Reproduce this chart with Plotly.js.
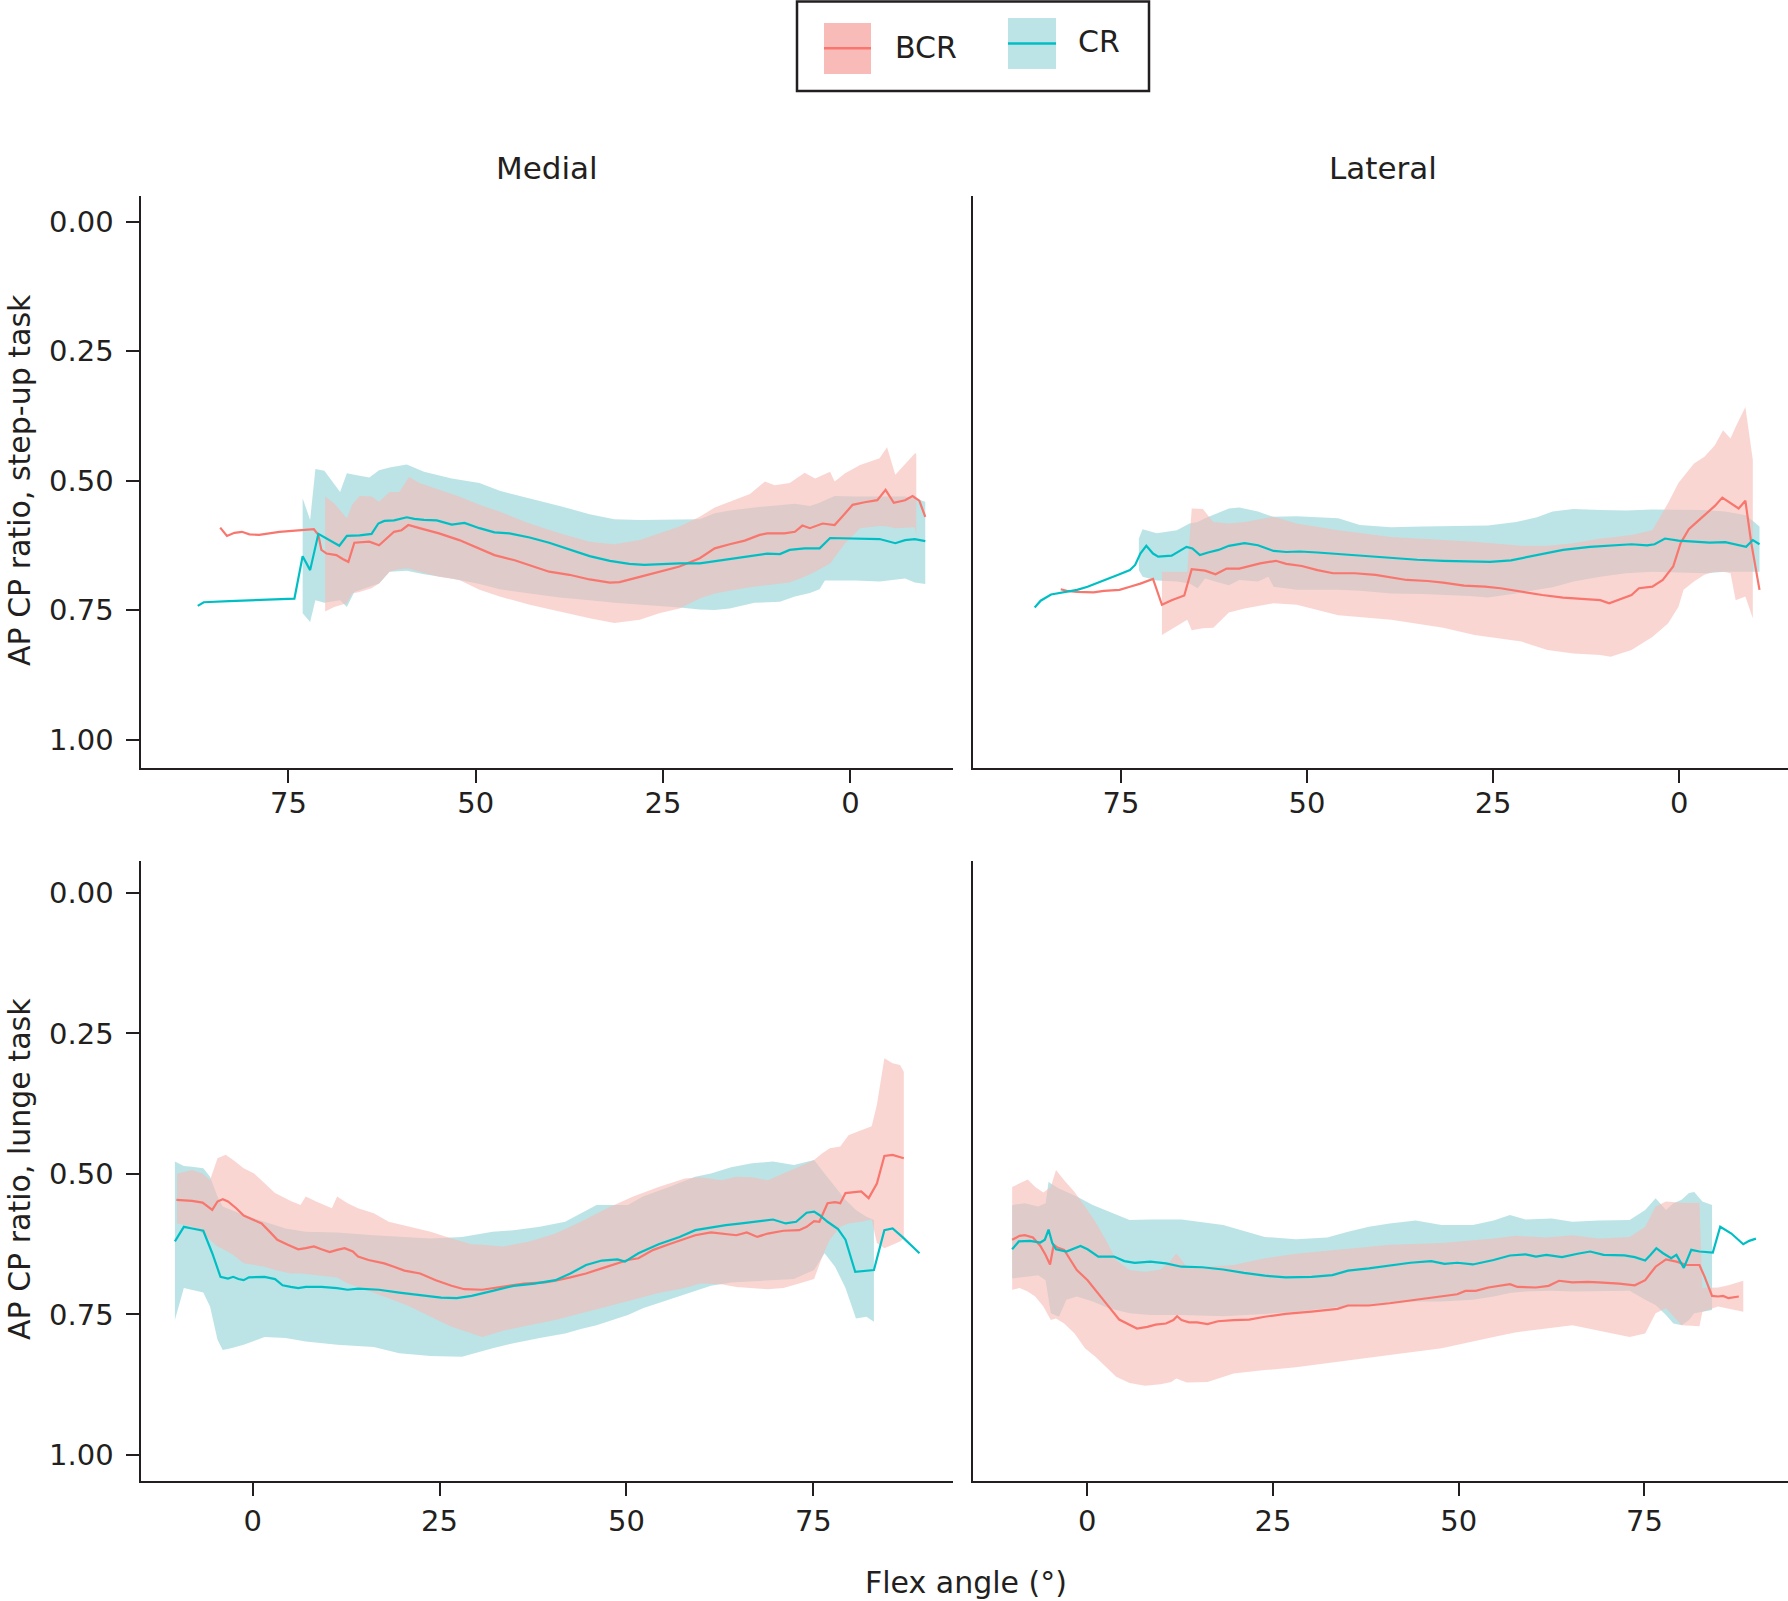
<!DOCTYPE html>
<html>
<head>
<meta charset="utf-8">
<script src="https://cdn.plot.ly/plotly-3.0.1.min.js"></script>
<style>html,body{margin:0;padding:0;background:#fff;}#chart{width:1788px;height:1601px;}</style>
</head>
<body>
<div id="chart"></div>
<script>
// ---------- Labels ----------
const groupNames = ["BCR", "CR"];
const columnTitles = ["Medial", "Lateral"];
const rowTitles = ["AP CP ratio, step-up task", "AP CP ratio, lunge task"];
const xTitle = "Flex angle (°)";
const xTickValues = [0, 25, 50, 75];
const yTickValues = [0, 0.25, 0.5, 0.75, 1];

// ---------- Step-up task, Medial ----------
const stepMedialCrLineX = [87.1,86.3,82.9,74.2,73.1,72.1,71.0,69.6,68.2,67.2,65.5,63.9,63.0,62.2,60.9,59.2,58.2,56.9,55.2,53.2,51.5,49.5,47.5,45.5,42.8,40.2,37.5,34.8,32.1,29.5,27.5,24.8,22.8,20.1,17.4,14.8,12.8,11.1,9.4,8.1,6.1,4.1,2.7,0.7,-1.3,-3.9,-6.0,-7.3,-8.6,-10.0];
const stepMedialCrLineY = [0.742,0.735,0.733,0.728,0.646,0.673,0.603,0.615,0.626,0.607,0.606,0.603,0.583,0.578,0.577,0.571,0.574,0.576,0.577,0.585,0.582,0.592,0.600,0.602,0.610,0.620,0.633,0.646,0.655,0.661,0.663,0.661,0.660,0.660,0.654,0.648,0.645,0.641,0.642,0.634,0.631,0.631,0.611,0.612,0.613,0.613,0.621,0.615,0.613,0.617];
const stepMedialCrBandX = [73.1,72.1,71.4,70.2,68.1,67.2,66.2,64.2,62.9,61.5,59.2,56.9,53.2,49.5,46.8,42.8,38.8,34.8,31.5,28.1,22.8,20.1,18.1,16.1,12.8,9.4,7.4,5.4,4.1,3.4,2.1,-0.6,-3.9,-7.3,-8.6,-10.0];
const stepMedialCrBandMin = [0.534,0.576,0.478,0.481,0.522,0.486,0.489,0.494,0.480,0.475,0.469,0.483,0.496,0.505,0.520,0.534,0.549,0.565,0.575,0.576,0.576,0.575,0.563,0.558,0.552,0.547,0.545,0.549,0.543,0.538,0.530,0.531,0.531,0.531,0.534,0.541];
const stepMedialCrBandMax = [0.756,0.773,0.731,0.736,0.731,0.744,0.715,0.705,0.699,0.676,0.674,0.681,0.689,0.700,0.710,0.718,0.726,0.731,0.736,0.740,0.745,0.749,0.750,0.747,0.736,0.734,0.724,0.717,0.710,0.693,0.693,0.693,0.695,0.689,0.697,0.700];
const stepMedialBcrLineX = [84.1,83.2,82.2,81.2,80.2,78.9,76.2,73.6,71.6,71.0,70.6,69.9,68.6,67.7,67.0,66.2,64.2,62.9,61.9,60.9,59.9,59.0,57.5,54.9,52.2,49.5,47.5,44.8,42.8,40.2,37.5,34.8,32.1,30.8,28.1,25.5,22.8,20.1,18.1,16.1,14.1,12.1,11.1,8.8,7.4,6.4,5.4,3.7,2.1,1.1,-0.3,-1.9,-3.6,-4.7,-5.8,-7.3,-8.3,-9.2,-10.0];
const stepMedialBcrLineY = [0.591,0.607,0.601,0.599,0.604,0.605,0.599,0.596,0.594,0.605,0.634,0.641,0.644,0.652,0.657,0.620,0.618,0.625,0.612,0.599,0.596,0.586,0.592,0.602,0.615,0.631,0.644,0.654,0.663,0.676,0.682,0.691,0.697,0.696,0.686,0.676,0.666,0.650,0.631,0.623,0.616,0.605,0.602,0.602,0.599,0.587,0.592,0.583,0.586,0.570,0.547,0.542,0.538,0.518,0.543,0.538,0.530,0.539,0.570];
const stepMedialBcrBandX = [70.1,68.9,67.2,66.5,65.5,63.9,62.9,61.5,60.2,58.9,57.5,54.9,52.2,49.5,46.8,42.8,38.8,34.8,31.5,28.1,25.5,22.8,20.1,18.1,16.1,13.4,11.4,10.1,8.1,6.1,4.7,2.7,2.1,0.7,-1.3,-3.9,-4.9,-6.0,-8.6,-8.8];
const stepMedialBcrBandMin = [0.531,0.544,0.573,0.547,0.530,0.531,0.541,0.522,0.522,0.493,0.505,0.518,0.531,0.547,0.560,0.583,0.602,0.618,0.623,0.615,0.602,0.589,0.570,0.552,0.541,0.526,0.502,0.509,0.505,0.485,0.496,0.483,0.502,0.486,0.470,0.457,0.436,0.489,0.448,0.448];
const stepMedialBcrBandMax = [0.753,0.744,0.737,0.718,0.715,0.708,0.699,0.676,0.671,0.670,0.676,0.686,0.692,0.711,0.724,0.740,0.753,0.766,0.775,0.769,0.756,0.747,0.728,0.718,0.713,0.706,0.702,0.700,0.697,0.686,0.676,0.660,0.647,0.621,0.592,0.588,0.589,0.592,0.590,0.605];

// ---------- Step-up task, Lateral ----------
const stepLateralCrLineX = [86.6,85.8,84.4,82.3,80.9,79.5,77.3,75.2,73.8,73.1,72.4,71.6,70.7,70.0,68.2,67.2,66.2,65.4,64.4,63.3,61.9,60.5,58.4,56.6,54.5,52.8,51.0,48.6,45.8,42.2,38.7,35.2,31.7,28.2,25.4,22.6,19.1,15.6,12.0,8.5,6.4,4.3,3.3,1.9,0.1,-2.0,-4.1,-6.2,-7.6,-9.0,-9.9,-10.8];
const stepLateralCrLineY = [0.745,0.732,0.720,0.714,0.711,0.705,0.692,0.681,0.673,0.663,0.641,0.626,0.641,0.647,0.645,0.637,0.628,0.631,0.644,0.639,0.634,0.626,0.621,0.625,0.636,0.638,0.637,0.639,0.642,0.646,0.650,0.653,0.655,0.656,0.657,0.654,0.644,0.634,0.628,0.624,0.623,0.625,0.623,0.612,0.616,0.618,0.620,0.619,0.623,0.628,0.615,0.623];
const stepLateralCrBandX = [72.6,72.1,70.2,67.5,65.8,64.7,63.7,61.9,60.5,59.1,56.6,55.2,54.5,51.4,45.8,42.9,38.7,34.5,28.2,25.7,21.9,19.1,17.0,14.2,10.6,7.1,3.6,0.1,-3.4,-6.2,-9.0,-10.8];
const stepLateralCrBandMin = [0.612,0.594,0.602,0.596,0.583,0.580,0.573,0.563,0.554,0.552,0.560,0.567,0.570,0.569,0.573,0.586,0.590,0.589,0.588,0.587,0.580,0.571,0.560,0.555,0.557,0.558,0.556,0.556,0.557,0.560,0.567,0.589];
const stepLateralCrBandMax = [0.673,0.686,0.693,0.695,0.699,0.708,0.689,0.697,0.702,0.692,0.695,0.686,0.705,0.711,0.711,0.713,0.718,0.719,0.723,0.726,0.718,0.711,0.706,0.695,0.686,0.679,0.676,0.678,0.679,0.676,0.676,0.676];
const stepLateralBcrLineX = [83.1,82.3,80.9,78.7,77.3,75.2,73.8,72.4,70.7,69.5,68.2,66.8,66.5,65.5,63.7,62.3,60.8,59.1,57.7,56.3,54.2,52.8,50.7,48.6,46.5,43.6,40.8,38.7,36.6,33.8,31.7,28.9,26.1,24.0,21.2,18.4,15.6,12.7,10.6,9.4,7.8,6.4,5.4,3.6,2.2,0.8,-0.2,-1.3,-2.7,-4.1,-4.8,-5.8,-6.9,-8.0,-8.9,-9.7,-10.8];
const stepLateralBcrLineY = [0.710,0.713,0.715,0.716,0.713,0.711,0.705,0.699,0.690,0.740,0.731,0.724,0.722,0.671,0.674,0.681,0.670,0.670,0.665,0.660,0.655,0.661,0.665,0.673,0.679,0.679,0.682,0.687,0.692,0.694,0.697,0.703,0.705,0.708,0.715,0.721,0.726,0.729,0.731,0.737,0.728,0.721,0.708,0.705,0.692,0.666,0.621,0.594,0.576,0.557,0.549,0.533,0.544,0.554,0.539,0.621,0.711];
const stepLateralBcrBandX = [69.5,66.1,65.5,64.0,62.6,60.5,58.4,54.5,51.4,45.8,38.7,31.7,27.5,21.2,17.7,14.2,10.6,9.2,6.4,3.6,1.5,0.1,-0.6,-2.0,-3.4,-4.8,-5.9,-6.9,-7.6,-8.9,-9.9];
const stepLateralBcrBandMin = [0.676,0.676,0.554,0.555,0.580,0.583,0.580,0.570,0.583,0.596,0.609,0.615,0.618,0.626,0.626,0.621,0.612,0.610,0.605,0.596,0.544,0.505,0.493,0.467,0.454,0.432,0.403,0.419,0.396,0.358,0.460];
const stepLateralBcrBandMax = [0.798,0.769,0.789,0.785,0.784,0.755,0.747,0.737,0.740,0.760,0.769,0.784,0.798,0.811,0.827,0.834,0.837,0.840,0.827,0.802,0.776,0.744,0.711,0.695,0.682,0.676,0.676,0.679,0.731,0.724,0.766];

// ---------- Lunge task, Medial ----------
const lungeMedialCrLineX = [-10.4,-9.2,-8.1,-6.6,-5.4,-4.3,-3.3,-2.6,-1.9,-1.2,-0.5,1.6,3.0,4.0,5.1,6.1,7.1,9.2,11.3,12.7,14.1,16.9,19.6,22.4,25.2,27.3,29.3,32.1,34.9,37.7,40.5,42.5,44.6,46.7,48.8,49.8,51.6,54.3,57.1,59.2,61.3,63.3,65.4,67.5,69.6,71.3,72.7,74.1,75.1,75.8,76.9,78.3,79.3,80.6,83.1,84.5,85.6,86.9,89.2];
const lungeMedialCrLineY = [0.620,0.594,0.597,0.601,0.641,0.683,0.686,0.683,0.687,0.689,0.684,0.683,0.687,0.698,0.701,0.703,0.701,0.701,0.703,0.706,0.704,0.706,0.711,0.715,0.720,0.721,0.717,0.708,0.699,0.695,0.689,0.677,0.662,0.654,0.652,0.656,0.641,0.625,0.612,0.600,0.595,0.591,0.588,0.584,0.581,0.588,0.585,0.569,0.567,0.573,0.585,0.598,0.617,0.674,0.671,0.600,0.597,0.612,0.641];
const lungeMedialCrBandX = [-10.4,-9.2,-8.1,-6.6,-5.7,-4.7,-4.0,-2.9,-1.2,1.6,4.4,7.1,11.3,16.2,19.6,23.8,28.0,32.1,34.9,38.4,41.8,43.9,46.0,50.2,52.2,55.7,59.2,61.3,64.0,66.8,69.6,72.4,75.1,76.5,77.9,79.3,80.7,82.1,83.1];
const lungeMedialCrBandMin = [0.478,0.486,0.487,0.490,0.505,0.540,0.558,0.564,0.573,0.585,0.597,0.603,0.604,0.609,0.612,0.615,0.612,0.603,0.600,0.594,0.585,0.570,0.555,0.555,0.540,0.523,0.505,0.499,0.488,0.481,0.478,0.484,0.475,0.499,0.523,0.546,0.564,0.576,0.582];
const lungeMedialCrBandMax = [0.760,0.703,0.706,0.711,0.736,0.795,0.813,0.810,0.804,0.790,0.792,0.798,0.804,0.808,0.819,0.824,0.825,0.810,0.801,0.792,0.784,0.776,0.769,0.751,0.739,0.724,0.708,0.699,0.693,0.690,0.689,0.687,0.671,0.641,0.665,0.703,0.757,0.754,0.763];
const lungeMedialBcrLineX = [-10.2,-8.1,-6.7,-6.1,-5.4,-4.7,-4.0,-3.3,-2.2,-1.2,-0.2,1.2,2.3,3.3,4.7,6.1,7.1,8.2,9.2,10.3,11.3,12.3,13.4,14.1,15.5,17.6,18.9,20.3,22.4,24.5,26.6,28.3,30.7,33.5,36.3,39.1,40.5,42.5,44.6,46.7,48.8,50.2,51.6,53.6,55.7,57.8,59.2,61.3,63.3,64.7,66.1,67.5,68.9,71.0,73.1,74.1,75.1,75.8,76.9,77.9,78.6,79.3,81.4,82.4,83.5,84.5,85.6,87.1];
const lungeMedialBcrLineY = [0.546,0.548,0.551,0.557,0.564,0.549,0.545,0.549,0.561,0.574,0.580,0.588,0.603,0.617,0.626,0.634,0.632,0.629,0.634,0.639,0.635,0.632,0.638,0.647,0.653,0.659,0.665,0.672,0.677,0.689,0.699,0.705,0.706,0.701,0.695,0.693,0.690,0.684,0.677,0.668,0.659,0.653,0.650,0.635,0.625,0.616,0.609,0.604,0.607,0.609,0.604,0.612,0.606,0.601,0.600,0.594,0.584,0.585,0.552,0.550,0.552,0.534,0.531,0.543,0.517,0.468,0.466,0.472];
const lungeMedialBcrBandX = [-10.1,-8.1,-6.7,-5.7,-4.7,-3.6,-2.6,-1.2,0.2,1.6,3.0,5.1,6.4,7.1,8.5,10.6,11.3,12.7,14.1,16.2,18.2,21.0,23.8,26.6,29.3,30.7,33.5,37.0,40.5,43.9,47.4,50.9,54.3,57.8,59.9,62.7,64.7,66.8,68.9,71.0,73.1,75.1,76.2,77.2,78.6,79.7,81.4,82.8,83.5,84.5,85.6,86.6,87.1];
const lungeMedialBcrBandMin = [0.499,0.493,0.499,0.511,0.472,0.466,0.475,0.490,0.499,0.517,0.534,0.548,0.555,0.540,0.549,0.561,0.540,0.552,0.561,0.570,0.585,0.594,0.603,0.615,0.625,0.626,0.629,0.620,0.606,0.585,0.561,0.540,0.523,0.508,0.506,0.511,0.505,0.506,0.511,0.499,0.487,0.475,0.463,0.454,0.451,0.431,0.422,0.415,0.377,0.294,0.303,0.306,0.318];
const lungeMedialBcrBandMax = [0.588,0.594,0.606,0.617,0.629,0.636,0.644,0.659,0.662,0.665,0.671,0.677,0.677,0.677,0.680,0.683,0.684,0.695,0.701,0.712,0.721,0.736,0.754,0.772,0.784,0.790,0.779,0.769,0.760,0.748,0.736,0.724,0.712,0.703,0.695,0.696,0.701,0.703,0.705,0.703,0.695,0.687,0.647,0.617,0.594,0.588,0.585,0.581,0.623,0.632,0.626,0.620,0.615];

// ---------- Lunge task, Lateral ----------
const lungeLateralCrLineX = [-10.1,-9.2,-7.7,-6.3,-5.7,-5.2,-4.7,-4.2,-2.8,-1.7,-0.9,0.05,1.5,3.6,5.0,6.4,8.5,10.6,12.7,15.5,18.3,21.1,23.9,26.7,30.2,33.0,35.1,37.9,40.7,43.5,46.3,48.1,49.8,51.9,54.7,56.9,59.0,60.4,61.8,63.9,66.0,67.7,69.5,72.3,73.7,75.1,75.8,76.6,77.5,78.6,79.3,80.3,81.3,82.4,84.2,85.2,86.7,88.3,89.1,90.0];
const lungeLateralCrLineY = [0.634,0.620,0.619,0.622,0.617,0.599,0.623,0.634,0.638,0.632,0.628,0.634,0.647,0.647,0.655,0.658,0.656,0.659,0.665,0.666,0.670,0.676,0.681,0.684,0.683,0.680,0.672,0.668,0.663,0.658,0.655,0.660,0.658,0.661,0.653,0.645,0.643,0.647,0.644,0.648,0.642,0.638,0.644,0.645,0.648,0.654,0.644,0.632,0.641,0.650,0.644,0.667,0.635,0.638,0.640,0.594,0.606,0.625,0.619,0.615];
const lungeLateralCrBandX = [-10.1,-8.4,-6.6,-5.6,-5.2,-4.9,-3.8,-2.8,-1.4,0.75,2.9,5.7,8.5,12.7,18.3,23.9,28.1,32.3,35.1,37.9,40.7,44.2,47.7,51.9,54.7,56.9,59.0,62.5,65.3,68.8,73.0,75.1,76.5,77.9,78.9,80.0,81.0,81.7,82.8,84.1];
const lungeLateralCrBandMin = [0.555,0.552,0.558,0.552,0.514,0.517,0.526,0.532,0.540,0.555,0.567,0.582,0.581,0.581,0.591,0.612,0.616,0.613,0.603,0.594,0.588,0.583,0.591,0.591,0.583,0.573,0.581,0.579,0.585,0.583,0.582,0.564,0.543,0.564,0.552,0.546,0.534,0.532,0.549,0.555];
const lungeLateralCrBandMax = [0.686,0.683,0.680,0.689,0.724,0.748,0.754,0.724,0.718,0.727,0.739,0.748,0.751,0.751,0.753,0.749,0.745,0.739,0.736,0.733,0.730,0.727,0.727,0.724,0.718,0.712,0.709,0.708,0.709,0.709,0.708,0.724,0.733,0.751,0.766,0.769,0.760,0.748,0.745,0.742];
const lungeLateralBcrLineX = [-10.1,-9.1,-8.4,-7.3,-6.3,-5.6,-5.0,-4.5,-4.0,-3.1,-2.4,-1.4,0.05,1.5,2.9,4.3,5.7,6.7,8.1,9.2,10.6,11.6,12.1,12.7,13.7,14.8,16.2,17.6,19.7,21.8,23.9,26.7,30.2,33.7,35.1,37.9,40.7,44.2,47.7,49.8,50.9,52.3,54.0,56.9,57.9,60.4,62.1,63.5,65.3,67.4,68.8,71.6,73.7,75.1,76.5,77.9,79.3,80.7,82.4,83.1,84.1,84.9,85.6,86.3,87.7];
const lungeLateralBcrLineY = [0.617,0.610,0.609,0.613,0.628,0.644,0.661,0.626,0.631,0.635,0.650,0.671,0.689,0.712,0.736,0.759,0.769,0.775,0.772,0.768,0.766,0.760,0.753,0.760,0.764,0.764,0.767,0.762,0.760,0.759,0.754,0.749,0.745,0.740,0.734,0.734,0.730,0.724,0.717,0.714,0.708,0.708,0.702,0.696,0.701,0.702,0.699,0.690,0.693,0.692,0.693,0.695,0.698,0.689,0.665,0.652,0.656,0.662,0.662,0.683,0.717,0.718,0.717,0.721,0.718];
const lungeLateralBcrBandX = [-10.1,-9.1,-8.0,-7.0,-5.9,-4.9,-4.2,-3.1,-1.7,-0.3,1.1,2.5,3.9,5.7,7.8,9.9,11.3,12.0,13.4,16.2,19.7,23.9,28.1,33.7,40.7,47.7,54.7,57.6,61.8,65.3,68.8,73.0,75.1,76.5,77.9,80.0,82.4,82.8,84.9,86.3,88.3];
const lungeLateralBcrBandMin = [0.523,0.517,0.510,0.523,0.533,0.523,0.493,0.511,0.532,0.558,0.585,0.617,0.653,0.671,0.674,0.670,0.653,0.641,0.665,0.665,0.662,0.650,0.642,0.635,0.626,0.623,0.615,0.610,0.613,0.609,0.615,0.612,0.594,0.558,0.549,0.551,0.551,0.703,0.702,0.698,0.690];
const lungeLateralBcrBandMax = [0.706,0.703,0.709,0.718,0.736,0.760,0.757,0.766,0.784,0.810,0.825,0.843,0.861,0.872,0.877,0.874,0.870,0.864,0.871,0.870,0.855,0.849,0.844,0.834,0.822,0.810,0.790,0.782,0.775,0.769,0.779,0.790,0.784,0.748,0.739,0.769,0.771,0.745,0.736,0.739,0.745];

// ---------- Styling ----------
const lineColors = {BCR: "#F8766D", CR: "#00BFC4"};
const bandColors = {BCR: "rgba(247,187,182,0.6)", CR: "rgba(143,210,213,0.6)"};
const swatchColors = {BCR: "#F8BBB7", CR: "#BCE4E6"};
const FONT = "'DejaVu Sans', 'Liberation Sans', Arial, sans-serif";
const TEXT = "#231f20";
const W = 1788, H = 1601;

const panels = [
  {xa: "x",  ya: "y",  CR: [stepMedialCrLineX, stepMedialCrLineY, stepMedialCrBandX, stepMedialCrBandMin, stepMedialCrBandMax],
                       BCR: [stepMedialBcrLineX, stepMedialBcrLineY, stepMedialBcrBandX, stepMedialBcrBandMin, stepMedialBcrBandMax]},
  {xa: "x2", ya: "y2", CR: [stepLateralCrLineX, stepLateralCrLineY, stepLateralCrBandX, stepLateralCrBandMin, stepLateralCrBandMax],
                       BCR: [stepLateralBcrLineX, stepLateralBcrLineY, stepLateralBcrBandX, stepLateralBcrBandMin, stepLateralBcrBandMax]},
  {xa: "x3", ya: "y3", CR: [lungeMedialCrLineX, lungeMedialCrLineY, lungeMedialCrBandX, lungeMedialCrBandMin, lungeMedialCrBandMax],
                       BCR: [lungeMedialBcrLineX, lungeMedialBcrLineY, lungeMedialBcrBandX, lungeMedialBcrBandMin, lungeMedialBcrBandMax]},
  {xa: "x4", ya: "y4", CR: [lungeLateralCrLineX, lungeLateralCrLineY, lungeLateralCrBandX, lungeLateralCrBandMin, lungeLateralCrBandMax],
                       BCR: [lungeLateralBcrLineX, lungeLateralBcrLineY, lungeLateralBcrBandX, lungeLateralBcrBandMin, lungeLateralBcrBandMax]}
];

const traces = [];
panels.forEach(p => {
  ["CR", "BCR"].forEach(g => {
    const [lx, ly, bx, bmin, bmax] = p[g];
    traces.push({
      type: "scatter", mode: "lines", xaxis: p.xa, yaxis: p.ya,
      x: bx.concat(bx.slice().reverse()),
      y: bmin.concat(bmax.slice().reverse()),
      fill: "toself", fillcolor: bandColors[g],
      line: {width: 0, color: "rgba(0,0,0,0)"}, hoverinfo: "skip", showlegend: false, name: g
    });
  });
  ["BCR", "CR"].forEach(g => {
    const [lx, ly] = p[g];
    traces.push({
      type: "scatter", mode: "lines", xaxis: p.xa, yaxis: p.ya,
      x: lx, y: ly, line: {color: lineColors[g], width: 2.2},
      showlegend: false, name: g
    });
  });
});

// pixel helpers for paper coordinates
const px = v => v / W;
const py = v => 1 - v / H;

const axisCommon = {
  showgrid: false, zeroline: false, showline: true, linecolor: TEXT, linewidth: 2,
  ticks: "outside", ticklen: 13, tickwidth: 2, tickcolor: TEXT,
  tickfont: {family: FONT, size: 29, color: TEXT}
};
const leftDom = [px(140.5), px(953)];
const rightDom = [px(973), px(1788)];
const topDom = [py(767.5), py(195.6)];
const botDom = [py(1481), py(861)];

const xaxisBase = Object.assign({}, axisCommon, {tickvals: xTickValues, ticktext: xTickValues.map(String)});
const xaxisTop = Object.assign({}, xaxisBase, {ticklabelstandoff: -4});
const yaxisBase = Object.assign({}, axisCommon, {tickvals: yTickValues, tickformat: ".2f", ticklabelstandoff: 6, ticklen: 13});
const yaxisNoTicks = Object.assign({}, axisCommon, {ticks: "", showticklabels: false});

const titleFont = {family: FONT, size: 30, color: TEXT};

const layout = {
  width: W, height: H,
  margin: {l: 0, r: 0, t: 0, b: 0},
  paper_bgcolor: "#ffffff", plot_bgcolor: "#ffffff",
  showlegend: false,
  font: {family: FONT, color: TEXT},
  xaxis:  Object.assign({}, xaxisTop,  {domain: leftDom,  anchor: "y",  range: [94.74, -13.7]}),
  yaxis:  Object.assign({}, yaxisBase, {domain: topDom,   anchor: "x",  range: [1.054, -0.05]}),
  xaxis2: Object.assign({}, xaxisTop,  {domain: rightDom, anchor: "y2", range: [94.89, -14.63]}),
  yaxis2: Object.assign({}, yaxisNoTicks, {domain: topDom, anchor: "x2", range: [1.054, -0.05]}),
  xaxis3: Object.assign({}, xaxisBase, {domain: leftDom,  anchor: "y3", range: [-15.0, 93.68]}),
  yaxis3: Object.assign({}, yaxisBase, {domain: botDom,   anchor: "x3", range: [1.0463, -0.0569]}),
  xaxis4: Object.assign({}, xaxisBase, {domain: rightDom, anchor: "y4", range: [-15.37, 94.32]}),
  yaxis4: Object.assign({}, yaxisNoTicks, {domain: botDom, anchor: "x4", range: [1.0463, -0.0569]}),
  annotations: [
    {text: columnTitles[0], xref: "paper", yref: "paper", x: px(547.25), y: py(167.6), xanchor: "center", yanchor: "middle", showarrow: false, font: {family: FONT, size: 31, color: TEXT}},
    {text: columnTitles[1], xref: "paper", yref: "paper", x: px(1383), y: py(167.6), xanchor: "center", yanchor: "middle", showarrow: false, font: {family: FONT, size: 31, color: TEXT}},
    {text: rowTitles[0], xref: "paper", yref: "paper", x: px(19), y: py(480), xanchor: "center", yanchor: "middle", textangle: -90, showarrow: false, font: titleFont},
    {text: rowTitles[1], xref: "paper", yref: "paper", x: px(19), y: py(1169), xanchor: "center", yanchor: "middle", textangle: -90, showarrow: false, font: titleFont},
    {text: xTitle, xref: "paper", yref: "paper", x: px(966), y: py(1582), xanchor: "center", yanchor: "middle", showarrow: false, font: titleFont},
    {text: groupNames[0], xref: "paper", yref: "paper", x: px(893), y: py(47.5), xanchor: "left", yanchor: "middle", showarrow: false, font: titleFont},
    {text: groupNames[1], xref: "paper", yref: "paper", x: px(1076), y: py(42), xanchor: "left", yanchor: "middle", showarrow: false, font: titleFont}
  ],
  shapes: [
    {type: "rect", xref: "paper", yref: "paper", x0: px(797), x1: px(1149), y0: py(91), y1: py(1.5), line: {color: TEXT, width: 2.5}, fillcolor: "#ffffff", layer: "above"},
    {type: "rect", xref: "paper", yref: "paper", x0: px(824), x1: px(871), y0: py(74), y1: py(23), line: {width: 0}, fillcolor: swatchColors.BCR, layer: "above"},
    {type: "line", xref: "paper", yref: "paper", x0: px(824), x1: px(871), y0: py(48.3), y1: py(48.3), line: {color: lineColors.BCR, width: 2.5}, layer: "above"},
    {type: "rect", xref: "paper", yref: "paper", x0: px(1008), x1: px(1056), y0: py(69), y1: py(18), line: {width: 0}, fillcolor: swatchColors.CR, layer: "above"},
    {type: "line", xref: "paper", yref: "paper", x0: px(1008), x1: px(1056), y0: py(43.4), y1: py(43.4), line: {color: lineColors.CR, width: 2.5}, layer: "above"}
  ]
};

Plotly.newPlot("chart", traces, layout, {staticPlot: true, displayModeBar: false});
</script>
</body>
</html>
